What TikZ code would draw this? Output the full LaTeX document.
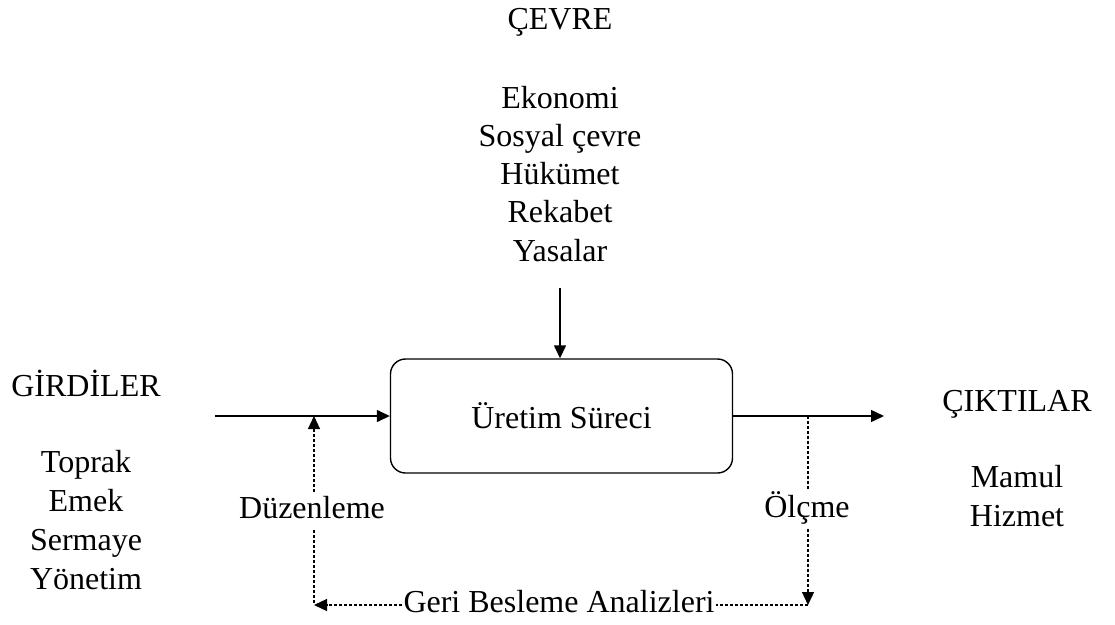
\documentclass[tikz,border=0pt]{standalone}
\usepackage{fontspec}
\setmainfont{Liberation Serif}
\usetikzlibrary{arrows.meta}
\begin{document}
\begin{tikzpicture}[x=1pt,y=-1pt,
  txt/.style={anchor=base,inner sep=0pt,font=\fontsize{32}{38}\selectfont},
  lbl/.style={anchor=base,font=\fontsize{32}{38}\selectfont,inner xsep=1pt,inner ysep=4pt,text height=22pt,text depth=8pt},
  procbox/.style={draw,line width=1.4pt,rounded corners=15pt,minimum width=342pt,minimum height=114pt,font=\fontsize{32}{38}\selectfont},
  flow/.style={line width=1.4pt,-{Triangle[length=13pt,width=12pt]}},
  fb/.style={line width=1.2pt,dash pattern=on 3pt off 2pt},
  fbarrow/.style={fb,-{Triangle[length=13pt,width=12pt]}}]
\path[use as bounding box,fill=white] (0,0) rectangle (1115,624);

% environment
\node[txt] (env) at (560,29) {ÇEVRE};
\node[txt] (e1) at (560,108) {Ekonomi};
\node[txt] (e2) at (560,146) {Sosyal çevre};
\node[txt] (e3) at (560,184) {Hükümet};
\node[txt] (e4) at (560,222) {Rekabet};
\node[txt] (e5) at (560,261) {Yasalar};

% inputs
\node[txt] (in) at (86,396) {GİRDİLER};
\node[txt] (i1) at (86,472) {Toprak};
\node[txt] (i2) at (86,511) {Emek};
\node[txt] (i3) at (86,550) {Sermaye};
\node[txt] (i4) at (86,589) {Yönetim};

% outputs
\node[txt] (out) at (1017,411) {ÇIKTILAR};
\node[txt] (o1) at (1017,487) {Mamul};
\node[txt] (o2) at (1017,526) {Hizmet};

% process
\node[procbox] (proc) at (561.5,416) {Üretim Süreci};

% main flow
\coordinate (envTop) at (560,288);
\coordinate (inStart) at (215,416);
\coordinate (outEnd) at (884,416);
\draw[flow] (envTop) -- (envTop |- proc.north);
\draw[flow] (inStart) -- (proc.west);
\draw[flow] (proc.east) -- (outEnd);

% feedback loop
\coordinate (dzTop) at (314,416);
\coordinate (olTop) at (808,416);
\coordinate (fbL) at (314,605);
\coordinate (fbR) at (808,605);
\node[lbl] (dz) at (312,518) {Düzenleme};
\node[lbl] (ol) at (807,517) {Ölçme};
\node[txt,inner xsep=1pt] (geri) at (559,612) {Geri Besleme Analizleri};

\draw[fbarrow] (dz.north -| dzTop) -- (dzTop);
\draw[fb] (olTop) -- (ol.north -| olTop);
\draw[fbarrow] (ol.south -| fbR) -- (fbR);
\draw[fb] (fbR) -- (geri.east |- fbR);
\draw[fbarrow] (geri.west |- fbL) -- (fbL);
\draw[fb] (dz.south -| fbL) -- (fbL);
\end{tikzpicture}
\end{document}
